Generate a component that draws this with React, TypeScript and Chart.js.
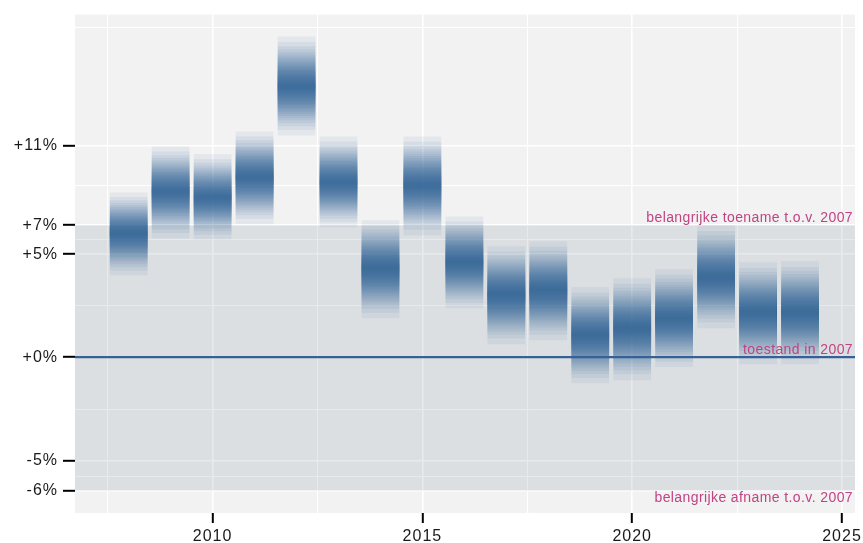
import React, { useEffect, useRef } from 'react';
import { Chart, registerables } from 'chart.js';

Chart.register(...registerables);

// ---- data (y values in log-index units ×100, i.e. ≈ % change vs 2007) ----
const years = [2008, 2009, 2010, 2011, 2012, 2013, 2014, 2015, 2016, 2017, 2018, 2019, 2020, 2021, 2022, 2023, 2024];
const lower = [3.96, 5.75, 5.7, 6.43, 10.72, 6.28, 1.88, 5.89, 2.37, 0.63, 0.82, -1.26, -1.11, -0.48, 1.4, -0.34, -0.34];
const median = [5.99, 8.02, 7.73, 8.7, 13.09, 8.45, 4.3, 8.31, 4.59, 3.04, 3.24, 1.06, 1.4, 1.88, 3.86, 2.17, 2.17];
const upper = [7.97, 10.19, 9.81, 10.92, 15.51, 10.68, 6.62, 10.68, 6.81, 5.36, 5.6, 3.38, 3.82, 4.25, 6.38, 4.59, 4.64];

const yMajorValues = [10.24, 6.38, 4.98, 0, -5.02, -6.45];
const yMajorLabels = ['+11%', '+7%', '+5%', '+0%', '-5%', '-6%'];
const yMinorValues = [15.94, 8.31, 5.68, 2.49, -2.51, -5.75];
const xMajorValues = [2010, 2015, 2020, 2025];
const xMajorLabels = ['2010', '2015', '2020', '2025'];
const xMinorValues = [2007.5, 2012.5, 2017.5, 2022.5];

const upperThreshold = 6.38;
const lowerThreshold = -6.45;
const referenceValue = 0;
const labelIncrease = 'belangrijke toename t.o.v. 2007';
const labelReference = 'toestand in 2007';
const labelDecrease = 'belangrijke afname t.o.v. 2007';

// ---- styling ----
const BLUE = '#356196';
const PINK = '#C04384';
const FONT = '"Liberation Sans", Arial, Helvetica, sans-serif';
const FAN_LEVELS = 30;
const FAN_ALPHA = 0.08;

// upper-tail normal quantile (Abramowitz & Stegun 26.2.23)
function zUpper(p: number): number {
  const t = Math.sqrt(-2 * Math.log(p));
  return t - (2.515517 + 0.802853 * t + 0.010328 * t * t) / (1 + 1.432788 * t + 0.189269 * t * t + 0.001308 * t * t * t);
}

function buildFanDatasets() {
  const zMax = zUpper(0.025);
  const sets: any[] = [];
  for (let k = 0; k < FAN_LEVELS; k++) {
    const p = 0.025 + (k * (0.5 - 0.025)) / FAN_LEVELS;
    const frac = zUpper(p) / zMax;
    sets.push({
      type: 'bar',
      label: '',
      data: years.map((yr, i) => ({
        x: yr,
        y: [median[i] - (median[i] - lower[i]) * frac, median[i] + (upper[i] - median[i]) * frac],
      })),
      backgroundColor: `rgba(53,97,150,${FAN_ALPHA})`,
      borderWidth: 0,
      grouped: false,
      barPercentage: 0.9,
      categoryPercentage: 1,
      inflateAmount: 0,
    });
  }
  return sets;
}

const panelPlugin = {
  id: 'panel',
  beforeDraw(chart: any) {
    const { ctx, chartArea } = chart;
    ctx.letterSpacing = '1px';
    ctx.save();
    ctx.fillStyle = '#F2F2F2';
    ctx.fillRect(chartArea.left, chartArea.top, chartArea.right - chartArea.left, chartArea.bottom - chartArea.top);
    ctx.restore();
  },
  beforeDatasetsDraw(chart: any) {
    const { ctx, chartArea, scales } = chart;
    const yTop = scales.y.getPixelForValue(upperThreshold);
    const yBot = scales.y.getPixelForValue(lowerThreshold);
    ctx.save();
    ctx.fillStyle = 'rgba(130,145,160,0.19)';
    ctx.fillRect(chartArea.left, yTop, chartArea.right - chartArea.left, yBot - yTop);
    ctx.restore();
  },
  afterDatasetsDraw(chart: any) {
    const { ctx, chartArea, scales } = chart;
    const y0 = scales.y.getPixelForValue(referenceValue);
    ctx.save();
    ctx.strokeStyle = BLUE;
    ctx.lineWidth = 2.2;
    ctx.beginPath();
    ctx.moveTo(chartArea.left, y0);
    ctx.lineTo(chartArea.right, y0);
    ctx.stroke();

    ctx.letterSpacing = '0.4px';
    ctx.font = `14px ${FONT}`;
    ctx.fillStyle = PINK;
    ctx.textAlign = 'right';
    ctx.textBaseline = 'alphabetic';
    const xr = chartArea.right - 2;
    ctx.fillText(labelIncrease, xr, scales.y.getPixelForValue(upperThreshold) - 3.5);
    ctx.fillText(labelReference, xr, y0 - 3);
    ctx.fillText(labelDecrease, xr, scales.y.getPixelForValue(lowerThreshold) + 11);
    ctx.restore();
  },
};

export default function App() {
  const ref = useRef<HTMLCanvasElement>(null);

  useEffect(() => {
    if (!ref.current) return;
    const yAll = [...yMajorValues, ...yMinorValues];
    const xAll = [...xMajorValues, ...xMinorValues];
    const chart = new Chart(ref.current, {
      type: 'bar',
      data: { datasets: buildFanDatasets() },
      plugins: [panelPlugin],
      options: {
        responsive: false,
        animation: false,
        devicePixelRatio: 1,
        layout: { padding: { top: 14, right: 8, left: 0, bottom: 0 } },
        plugins: { legend: { display: false }, tooltip: { enabled: false } },
        scales: {
          x: {
            type: 'linear',
            min: 2006.72,
            max: 2025.31,
            offset: false,
            afterFit: (s: any) => {
              s.height = 30;
            },
            afterBuildTicks: (s: any) => {
              s.ticks = xAll.map((v) => ({ value: v }));
            },
            border: { display: false },
            grid: {
              offset: false,
              color: '#FFFFFF',
              lineWidth: (c: any) => (xMajorValues.includes(c.tick?.value) ? 1.6 : 1.1),
              tickColor: (c: any) => (xMajorValues.includes(c.tick?.value) ? '#000000' : 'rgba(0,0,0,0)'),
              tickWidth: 2,
              tickLength: 10,
              drawTicks: true,
            },
            ticks: {
              autoSkip: false,
              maxRotation: 0,
              padding: 4,
              color: '#1a1a1a',
              font: { family: FONT, size: 16 },
              callback: (v: any) => {
                const i = xMajorValues.indexOf(Number(v));
                return i >= 0 ? xMajorLabels[i] : '';
              },
            },
          },
          y: {
            type: 'linear',
            min: -7.536,
            max: 16.57,
            afterFit: (s: any) => {
              s.width = 75;
            },
            afterBuildTicks: (s: any) => {
              s.ticks = yAll.map((v) => ({ value: v }));
            },
            border: { display: false },
            grid: {
              color: '#FFFFFF',
              lineWidth: (c: any) => (yMajorValues.includes(c.tick?.value) ? 1.6 : 1.1),
              tickColor: (c: any) => (yMajorValues.includes(c.tick?.value) ? '#000000' : 'rgba(0,0,0,0)'),
              tickWidth: 2,
              tickLength: 12,
              drawTicks: true,
            },
            ticks: {
              autoSkip: false,
              padding: 5,
              color: '#1a1a1a',
              font: { family: FONT, size: 16 },
              callback: (v: any) => {
                const i = yMajorValues.indexOf(Number(v));
                return i >= 0 ? yMajorLabels[i] : '';
              },
            },
          },
        },
      } as any,
    });
    return () => chart.destroy();
  }, []);

  return (
    <div style={{ position: 'absolute', left: 0, top: 0, width: 863, height: 543 }}>
      <canvas ref={ref} width={863} height={543} style={{ display: 'block', width: 863, height: 543 }} />
    </div>
  );
}
